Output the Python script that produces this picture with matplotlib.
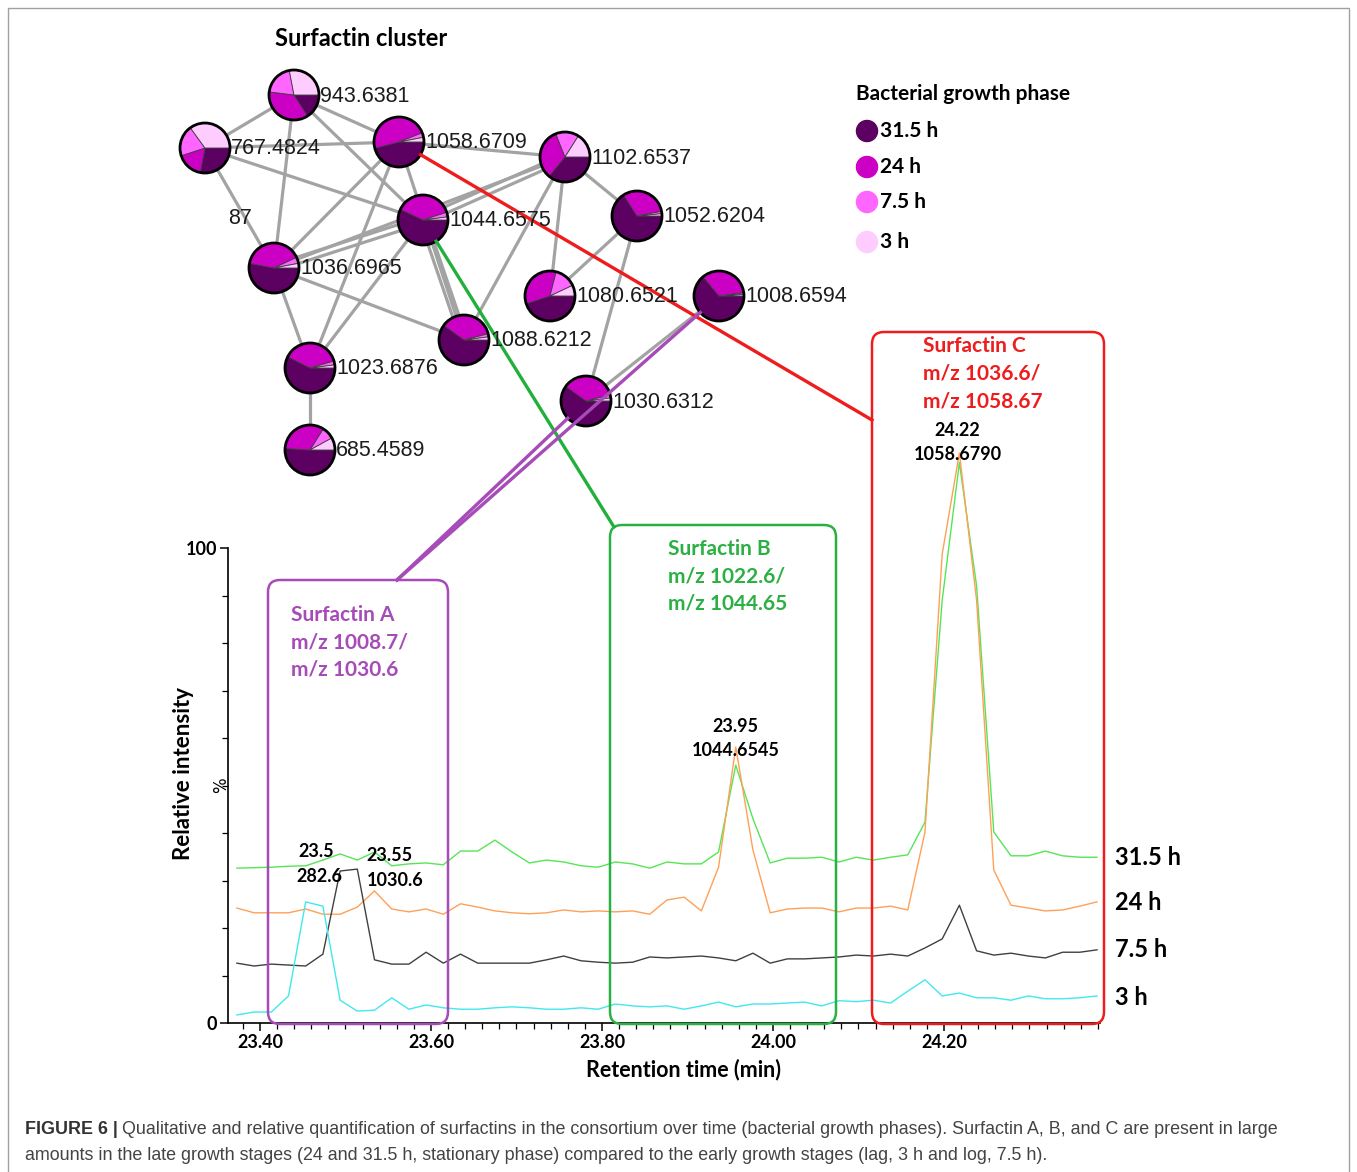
import numpy as np
import matplotlib
matplotlib.use("Agg")
import matplotlib.pyplot as plt
from matplotlib.patches import FancyBboxPatch, Circle, Rectangle
from matplotlib.ticker import MultipleLocator
from matplotlib import font_manager

# ---- chromatogram data (relative intensity %, stacked traces) ----
times = np.linspace(23.373, 24.379, 51)  # scan times (min)
trace_31_5h = [32.6, 32.7, 32.8, 33.0, 33.1, 34.3, 35.6, 34.3, 36.0, 33.1, 33.5, 33.7, 33.3,
               36.2, 36.2, 38.5, 36.0, 33.7, 34.3, 33.9, 33.1, 32.8, 33.9, 33.5, 32.6, 33.9,
               33.5, 33.5, 36.0, 54.3, 43.0, 33.7, 34.7, 34.7, 34.9, 33.9, 34.9, 34.3, 34.9,
               35.4, 42.3, 89.0, 118.0, 92.0, 40.2, 35.2, 35.2, 36.2, 35.2, 34.9, 34.9]
trace_24h = [24.2, 23.2, 23.2, 23.2, 24.0, 22.9, 22.9, 24.4, 27.8, 24.0, 23.4, 24.0, 22.9,
             25.1, 24.4, 23.6, 23.2, 23.0, 23.2, 23.8, 23.4, 23.6, 23.4, 23.6, 22.9, 25.9,
             26.5, 23.6, 32.8, 58.1, 36.4, 23.2, 24.0, 24.2, 24.2, 23.4, 24.2, 24.2, 24.6,
             23.8, 40.2, 98.7, 120.0, 89.0, 32.2, 24.8, 24.2, 23.6, 23.8, 24.6, 25.5]
trace_7_5h = [12.6, 12.0, 12.4, 12.2, 12.0, 14.5, 32.0, 32.4, 13.3, 12.4, 12.4, 14.9, 12.6,
              14.5, 12.6, 12.6, 12.6, 12.6, 13.3, 14.1, 13.1, 12.8, 12.6, 12.8, 13.9, 13.7,
              13.9, 14.1, 13.7, 13.1, 14.7, 12.6, 13.5, 13.5, 13.7, 13.9, 14.3, 14.1, 14.5,
              14.1, 15.8, 17.7, 24.8, 15.2, 14.3, 14.7, 14.1, 13.7, 14.9, 14.9, 15.4]
trace_3h = [1.7, 2.3, 2.3, 5.7, 25.5, 24.6, 4.8, 2.5, 2.7, 5.3, 2.9, 3.8, 3.2, 2.9, 2.9,
            3.2, 3.4, 3.2, 2.9, 2.9, 3.2, 2.9, 4.0, 3.6, 3.4, 3.6, 2.9, 3.6, 4.4, 3.4, 4.0,
            4.0, 4.2, 4.4, 3.6, 4.7, 4.5, 4.8, 4.2, 6.7, 9.1, 5.7, 6.3, 5.3, 5.3, 4.8, 5.7,
            5.1, 5.1, 5.3, 5.7]
trace_names = ["31.5 h", "24 h", "7.5 h", "3 h"]
trace_colors = ["#55e655", "#ffa057", "#404040", "#40e8f0"]
trace_label_y = [34.9, 25.3, 15.4, 5.3]

# peak annotations: (time, y, text)
peak_notes = [(23.466, 36.2, "23.5"), (23.470, 30.9, "282.6"),
              (23.552, 35.2, "23.55"), (23.558, 29.9, "1030.6"),
              (23.956, 62.5, "23.95"), (23.956, 57.3, "1044.6545"),
              (24.216, 124.8, "24.22"), (24.216, 119.6, "1058.6790")]

# ---- molecular network (Surfactin cluster) ----
node_names = ["943.6381", "767.4824", "1058.6709", "1102.6537", "1044.6575", "1052.6204",
              "1036.6965", "1080.6521", "1008.6594", "1088.6212", "1023.6876", "1030.6312",
              "685.4589"]
node_x = [294, 205, 399, 565, 423, 637, 274, 550, 719, 464, 310, 586, 310]
node_y = [95, 148, 142, 157, 220, 216, 268, 296, 296, 340, 368, 401, 450]
# pie fractions: 31.5 h, 24 h, 7.5 h, 3 h
node_fracs = [[0.16, 0.36, 0.20, 0.28], [0.28, 0.17, 0.20, 0.35], [0.46, 0.48, 0.03, 0.03],
              [0.36, 0.33, 0.15, 0.16], [0.57, 0.38, 0.03, 0.02], [0.66, 0.31, 0.015, 0.015],
              [0.53, 0.40, 0.04, 0.03], [0.45, 0.34, 0.14, 0.07], [0.64, 0.34, 0.01, 0.01],
              [0.60, 0.36, 0.02, 0.02], [0.575, 0.38, 0.025, 0.02], [0.60, 0.36, 0.02, 0.02],
              [0.51, 0.33, 0.08, 0.08]]
edges = [("943.6381", "767.4824", 1), ("943.6381", "1058.6709", 1), ("943.6381", "1036.6965", 1),
         ("943.6381", "1044.6575", 1), ("767.4824", "1058.6709", 1), ("767.4824", "1044.6575", 1),
         ("767.4824", "1036.6965", 1), ("1058.6709", "1102.6537", 1), ("1058.6709", "1036.6965", 1),
         ("1058.6709", "1023.6876", 1), ("1058.6709", "1088.6212", 1), ("1036.6965", "1044.6575", 2),
         ("1036.6965", "1102.6537", 1), ("1044.6575", "1102.6537", 2), ("1102.6537", "1052.6204", 1),
         ("1102.6537", "1080.6521", 1), ("1102.6537", "1088.6212", 1), ("1044.6575", "1088.6212", 2),
         ("1036.6965", "1088.6212", 1), ("1036.6965", "1023.6876", 1), ("1023.6876", "685.4589", 1),
         ("1052.6204", "1080.6521", 1), ("1052.6204", "1030.6312", 1), ("1008.6594", "1030.6312", 1),
         ("1044.6575", "1023.6876", 1)]
phase_colors = ["#5c0062", "#cc00c4", "#ff66ff", "#ffccff"]
legend_y = [131, 167, 202, 242]

W, H = 1357, 1172
fig = plt.figure(figsize=(W / 100, H / 100), dpi=100)

names = {f.name for f in font_manager.fontManager.ttflist}
cap_font = "Liberation Sans Narrow" if "Liberation Sans Narrow" in names else "Liberation Sans"
cap_size = 13.5 if cap_font == "Liberation Sans Narrow" else 12.9
bold_font = "Lato"

# ---- chromatogram axes (pixel box 228..1100 x 330..1023) ----
ax = fig.add_axes([228 / W, 1 - 1023 / H, (1100 - 228) / W, (1023 - 330) / H])
ax.set_xlim(23.3626, 24.3825)
ax.set_ylim(0, 145.9)
for ys, c in zip([trace_31_5h, trace_24h, trace_7_5h, trace_3h], trace_colors):
    ax.plot(times, ys, color=c, lw=1.0, clip_on=False)

ax.spines["top"].set_visible(False)
ax.spines["right"].set_visible(False)
ax.spines["left"].set_bounds(0, 100)
ax.spines["left"].set_linewidth(1.2)
ax.spines["bottom"].set_linewidth(1.2)
ax.set_xticks([23.4, 23.6, 23.8, 24.0, 24.2])
ax.set_xticklabels(["23.40", "23.60", "23.80", "24.00", "24.20"])
ax.xaxis.set_minor_locator(MultipleLocator(0.02))
ax.set_yticks([0, 100])
ax.set_yticklabels(["0", "100"])
ax.set_yticks(np.arange(10, 100, 10), minor=True)
ax.tick_params(axis="both", which="major", length=6, width=1.1, labelsize=13, pad=2)
ax.tick_params(axis="both", which="minor", length=4, width=0.9)
for lab in ax.get_xticklabels() + ax.get_yticklabels():
    lab.set_fontweight("bold")
    lab.set_family(bold_font)
ax.patch.set_alpha(0)

ax.set_xlabel("Retention time (min)", fontsize=15.5, fontweight="bold", family=bold_font)
ax.xaxis.set_label_coords(0.522, -0.052)

for t, y, s in peak_notes:
    ax.text(t, y, s, ha="center", va="center", fontsize=13, fontweight="bold", family=bold_font)
for name, y in zip(trace_names, trace_label_y):
    ax.text(24.40, y, name, ha="left", va="center", fontsize=17, fontweight="bold", family=bold_font)

fig.text(183 / W, 1 - 773 / H, "Relative intensity", rotation=90, ha="center", va="center",
         fontsize=16, fontweight="bold", family=bold_font)
fig.text(221 / W, 1 - 785 / H, "%", rotation=90, ha="center", va="center", fontsize=12)

# ---- overlay axes in image pixel coordinates ----
ov = fig.add_axes([0, 0, 1, 1], zorder=5)
pos = dict(zip(node_names, zip(node_x, node_y)))

# network edges
for a, b, n in edges:
    (x1, y1), (x2, y2) = pos[a], pos[b]
    d = np.hypot(x2 - x1, y2 - y1)
    nx, ny = -(y2 - y1) / d, (x2 - x1) / d
    offs = [0] if n == 1 else [-3.2, 3.2]
    for o in offs:
        ov.plot([x1 + nx * o, x2 + nx * o], [y1 + ny * o, y2 + ny * o], color="#a3a3a3",
                lw=2.3, zorder=1, solid_capstyle="round")

# pie nodes
for name, x, y, fr in zip(node_names, node_x, node_y, node_fracs):
    ov.pie(fr, center=(x, y), radius=25, startangle=0, counterclock=True, colors=phase_colors,
           wedgeprops=dict(edgecolor="#3c3c3c", linewidth=0.6, zorder=3), frame=False)
    ov.add_patch(Circle((x, y), 25, fill=False, ec="black", lw=2.0, zorder=4))
    ov.text(x + 26, y + 1, name, ha="left", va="center", fontsize=15.5,
            family="Liberation Sans", color="#1c1c1c", zorder=6)
ov.text(240, 218, "87", ha="center", va="center", fontsize=15.5, family="Liberation Sans",
        color="#1c1c1c")

ov.text(361, 39, "Surfactin cluster", ha="center", va="center", fontsize=17,
        fontweight="bold", family=bold_font)

# legend
ov.text(856, 94, "Bacterial growth phase", ha="left", va="center", fontsize=15,
        fontweight="bold", family=bold_font)
ov.scatter([867] * 4, legend_y, s=230, c=phase_colors, zorder=4)
for name, y in zip(trace_names, legend_y):
    ov.text(880, y, name, ha="left", va="center", fontsize=15, fontweight="bold", family=bold_font)

# boxes around the surfactin peaks
boxes = [(268, 580, 448, 1024, "#a64bb8", "Surfactin A", "m/z 1008.7/", "m/z 1030.6", 291, 615),
         (610, 525, 836, 1024, "#2bb043", "Surfactin B", "m/z 1022.6/", "m/z 1044.65", 668, 549),
         (872, 332, 1104, 1024, "#ee1c1c", "Surfactin C", "m/z 1036.6/", "m/z 1058.67", 923, 346)]
for x0, y0, x1, y1, c, t1, t2, t3, tx, ty in boxes:
    ov.add_patch(FancyBboxPatch((x0, y0), x1 - x0, y1 - y0,
                                boxstyle="round,pad=0,rounding_size=12",
                                fill=False, ec=c, lw=1.8, zorder=2))
    for i, s in enumerate([t1, t2, t3]):
        ov.text(tx, ty + i * 27.5, s, ha="left", va="center", fontsize=15, fontweight="bold",
                family=bold_font, color=c)

# connectors from nodes to boxes
links = [("1058.6709", (872, 420), "#ee1c1c"), ("1044.6575", (614, 527), "#22b03c"),
         ("1008.6594", (397, 580), "#a64bb8"), ("1030.6312", (397, 580), "#a64bb8")]
for name, (ex, ey), c in links:
    sx, sy = pos[name]
    d = np.hypot(ex - sx, ey - sy)
    sx, sy = sx + 25 * (ex - sx) / d, sy + 25 * (ey - sy) / d
    ov.plot([sx, ex], [sy, ey], color=c, lw=2.4, zorder=5)

# outer frame
ov.add_patch(Rectangle((8, 8), 1341, 1200, fill=False, ec="#a0a0a0", lw=1.0, clip_on=False))

ov.set_xlim(0, W)
ov.set_ylim(H, 0)
ov.axis("off")

# caption
fig.canvas.draw()
r = fig.canvas.get_renderer()
c1 = ov.text(25, 1130, "FIGURE 6 |", ha="left", va="center", fontsize=cap_size, fontweight="bold",
             family=cap_font, color="#333333")
bb = c1.get_window_extent(renderer=r)
x_end = bb.x1 + 4
ov.text(x_end, 1130, "Qualitative and relative quantification of surfactins in the consortium over "
        "time (bacterial growth phases). Surfactin A, B, and C are present in large",
        ha="left", va="center", fontsize=cap_size, family=cap_font, color="#444444")
ov.text(25, 1155, "amounts in the late growth stages (24 and 31.5 h, stationary phase) compared to "
        "the early growth stages (lag, 3 h and log, 7.5 h).",
        ha="left", va="center", fontsize=cap_size, family=cap_font, color="#444444")

fig.savefig("out.png", dpi=100)
